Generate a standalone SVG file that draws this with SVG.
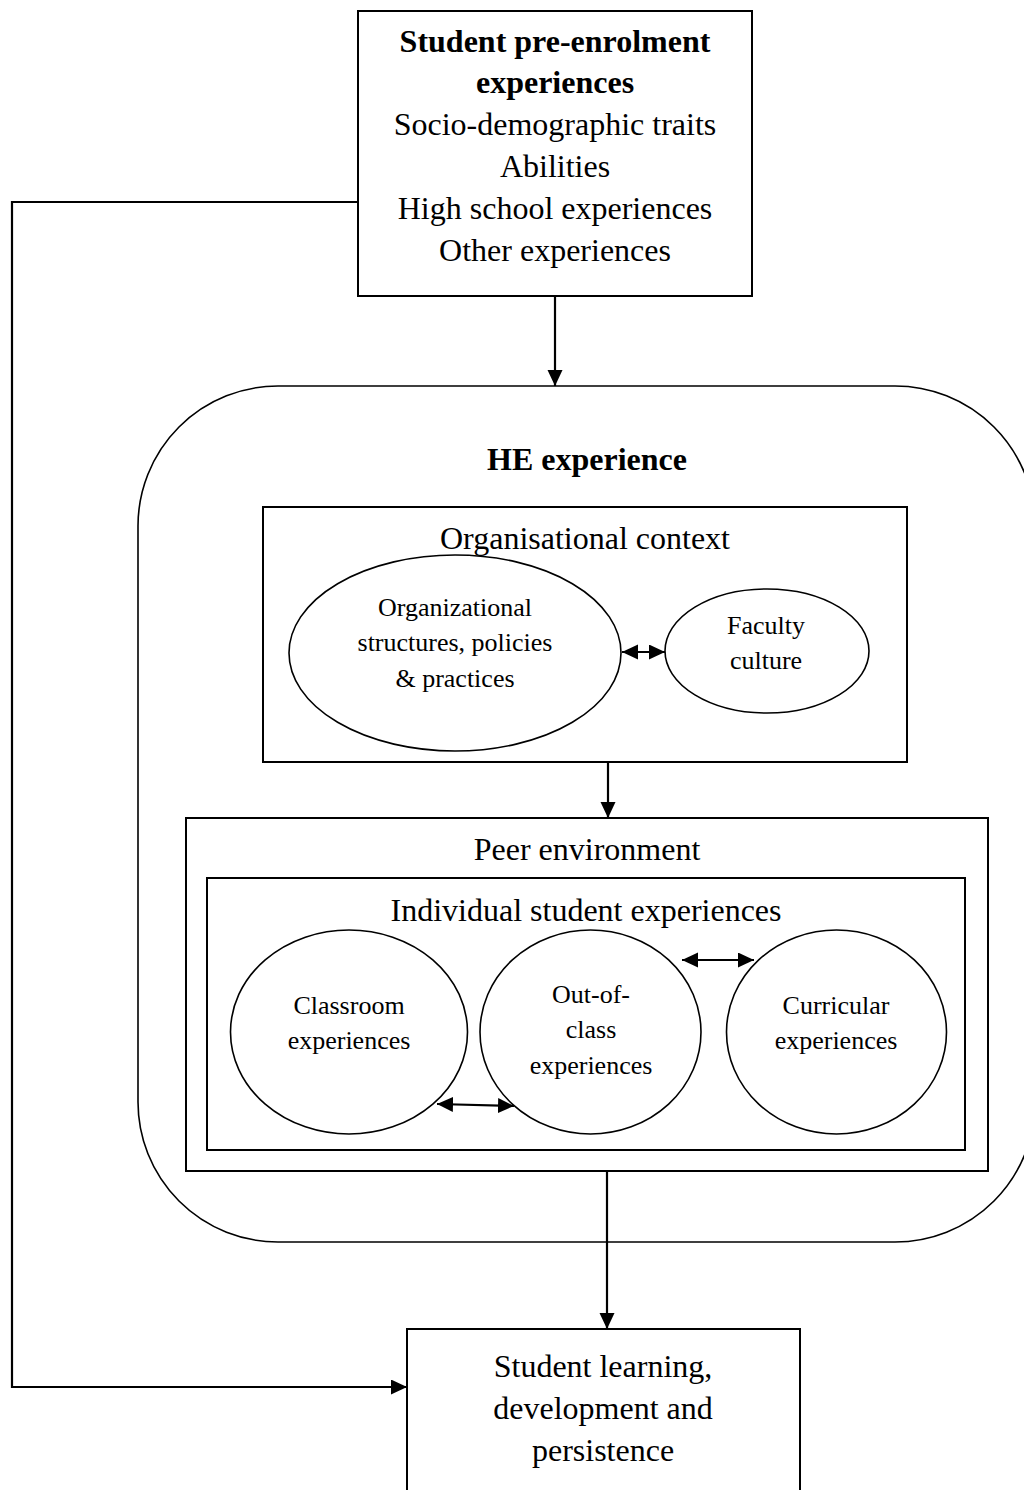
<svg xmlns="http://www.w3.org/2000/svg" width="1024" height="1490" viewBox="0 0 1024 1490">
<style>
.box{fill:none;stroke:#000;stroke-width:2}
.thin{fill:none;stroke:#000;stroke-width:1.6}
.t{font-family:"Liberation Serif","Times New Roman",serif;font-size:32px;fill:#000;text-anchor:middle}
.b{font-weight:bold}
.s{font-family:"Liberation Serif","Times New Roman",serif;font-size:26px;fill:#000;text-anchor:middle}
.con{fill:none;stroke:#000;stroke-width:2.2}
</style>
<defs>
<marker id="ah" markerUnits="userSpaceOnUse" markerWidth="18" markerHeight="16" refX="16" refY="7.5" orient="auto-start-reverse">
<path d="M0,0 L16,7.5 L0,15 z" fill="#000"/>
</marker>
</defs>
<rect width="1024" height="1490" fill="#fff"/>

<g id="he-experience">
<rect class="thin" x="138" y="386" width="897" height="856" rx="140" ry="140"/>
<text class="t b" x="587" y="470">HE experience</text>
</g>

<g id="pre-enrolment">
<rect class="box" x="358" y="11" width="394" height="285"/>
<text class="t b" x="555" y="52">Student pre-enrolment</text>
<text class="t b" x="555" y="93">experiences</text>
<text class="t" x="555" y="135">Socio-demographic traits</text>
<text class="t" x="555" y="177">Abilities</text>
<text class="t" x="555" y="219">High school experiences</text>
<text class="t" x="555" y="261">Other experiences</text>
</g>

<g id="organisational-context">
<rect class="box" x="263" y="507" width="644" height="255"/>
<text class="t" x="585" y="549">Organisational context</text>
</g>

<g id="org-structures">
<ellipse class="thin" cx="455" cy="653" rx="166" ry="98"/>
<text class="s" x="455" y="616">Organizational</text>
<text class="s" x="455" y="651">structures, policies</text>
<text class="s" x="455" y="687">&amp; practices</text>
</g>

<g id="faculty-culture">
<ellipse class="thin" cx="767" cy="651" rx="102" ry="62"/>
<text class="s" x="766" y="634">Faculty</text>
<text class="s" x="766" y="669">culture</text>
</g>

<g id="peer-environment">
<rect class="box" x="186" y="818" width="802" height="353"/>
<text class="t" x="587" y="860">Peer environment</text>
</g>

<g id="individual-experiences">
<rect class="box" x="207" y="878" width="758" height="272"/>
<text class="t" x="586" y="921">Individual student experiences</text>
</g>

<g id="classroom">
<ellipse class="thin" cx="349" cy="1032" rx="118.5" ry="102"/>
<text class="s" x="349" y="1014">Classroom</text>
<text class="s" x="349" y="1049">experiences</text>
</g>

<g id="out-of-class">
<ellipse class="thin" cx="590.5" cy="1032" rx="110.5" ry="102"/>
<text class="s" x="591" y="1003">Out-of-</text>
<text class="s" x="591" y="1038">class</text>
<text class="s" x="591" y="1074">experiences</text>
</g>

<g id="curricular">
<ellipse class="thin" cx="836.5" cy="1032" rx="110" ry="102"/>
<text class="s" x="836" y="1014">Curricular</text>
<text class="s" x="836" y="1049">experiences</text>
</g>

<g id="outcomes">
<rect class="box" x="407" y="1329" width="393" height="175"/>
<text class="t" x="603" y="1377">Student learning,</text>
<text class="t" x="603" y="1419">development and</text>
<text class="t" x="603" y="1461">persistence</text>
</g>

<g id="connectors">
<line class="con" x1="555" y1="296" x2="555" y2="386" marker-end="url(#ah)"/>
<polyline class="con" points="358,202 12,202 12,1387 407,1387" marker-end="url(#ah)"/>
<line class="con" x1="608" y1="762" x2="608" y2="818" marker-end="url(#ah)"/>
<line class="con" x1="607" y1="1171" x2="607" y2="1329" marker-end="url(#ah)"/>
<line class="con" x1="622" y1="652" x2="665" y2="652" marker-start="url(#ah)" marker-end="url(#ah)"/>
<line class="con" x1="437" y1="1104" x2="514" y2="1106" marker-start="url(#ah)" marker-end="url(#ah)"/>
<line class="con" x1="682" y1="960" x2="754" y2="960" marker-start="url(#ah)" marker-end="url(#ah)"/>
</g>
</svg>
